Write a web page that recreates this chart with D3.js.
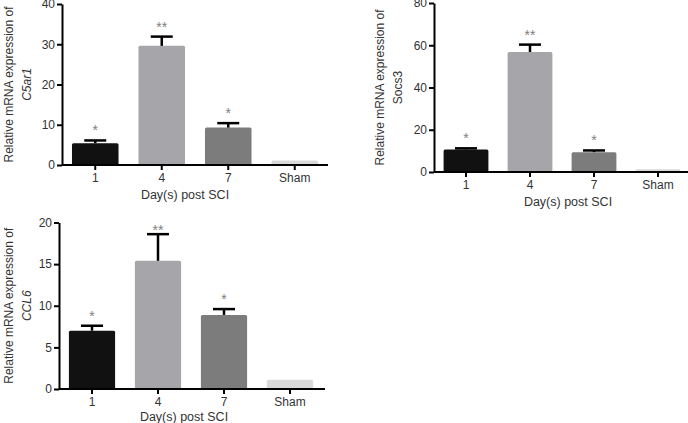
<!DOCTYPE html>
<html>
<head>
<meta charset="utf-8">
<script src="https://cdn.jsdelivr.net/npm/d3@7"></script>
<style>
  body { margin: 0; background: white; }
  svg { display: block; font-family: "Liberation Sans", Arial, sans-serif; }
  .axis path, .axis line { stroke: #000; stroke-width: 2; }
  .axis text { fill: #333; font-size: 12px; }
</style>
</head>
<body>
<svg id="chart" width="688" height="423"></svg>
<script>
// data
var days = ["1", "4", "7", "Sham"];
var stars = ["*", "**", "*", ""];

var c5ar1_mean = [5.4, 29.6, 9.3, 1.1];
var c5ar1_err  = [0.7, 2.3, 1.1, 0];

var socs3_mean = [10.7, 56.8, 9.4, 1.3];
var socs3_err  = [0.5, 3.5, 0.8, 0];

var ccl6_mean = [7.0, 15.4, 8.9, 1.1];
var ccl6_err  = [0.6, 3.2, 0.7, 0];

var c5ar1_ticks = [0, 10, 20, 30, 40];
var socs3_ticks = [0, 20, 40, 60, 80];
var ccl6_ticks  = [0, 5, 10, 15, 20];

var bar_colors = ["#111111", "#a6a6aa", "#7c7c7c", "#d9d9d9"];

var svg = d3.select("#chart");

// each panel: where its axes sit, in px
var panels = [
  {gene: "C5ar1", italic: true, mean: c5ar1_mean, err: c5ar1_err, ticks: c5ar1_ticks,
   x0: 62, x1: 328, y0: 165, y1: 4, ymax: 40, lblx: 9, xlabx: 185, xlaby: 199, xend: 328},
  {gene: "Socs3", italic: false, mean: socs3_mean, err: socs3_err, ticks: socs3_ticks,
   x0: 434, x1: 690, y0: 172, y1: 3, ymax: 80, lblx: 380, xlabx: 568, xlaby: 206, xend: 688},
  {gene: "CCL6", italic: true, mean: ccl6_mean, err: ccl6_err, ticks: ccl6_ticks,
   x0: 59, x1: 323, y0: 389, y1: 222.5, ymax: 20, lblx: 9, xlabx: 184, xlaby: 421, xend: 325}
];

panels.forEach(function(p) {
  var x = d3.scaleBand().domain(days).range([p.x0, p.x1])
      .paddingInner(0.3).paddingOuter(0.15);
  var y = d3.scaleLinear().domain([0, p.ymax]).range([p.y0, p.y1]);
  var g = svg.append("g");

  var rows = days.map(function(d, i) {
    return {day: d, mean: p.mean[i], err: p.err[i], star: stars[i], color: bar_colors[i]};
  });

  g.selectAll("rect.bar").data(rows).enter().append("rect")
    .attr("class", "bar")
    .attr("x", function(d) { return x(d.day); })
    .attr("width", x.bandwidth())
    .attr("y", function(d) { return y(d.mean); })
    .attr("height", function(d) { return p.y0 - y(d.mean); })
    .attr("rx", 1.5)
    .attr("fill", function(d) { return d.color; });

  // upper error bars only
  var eb = g.selectAll("g.err").data(rows.filter(function(d) { return d.err > 0; }))
    .enter().append("g").attr("class", "err")
    .attr("stroke", "#000").attr("stroke-width", 2.5);
  eb.append("line")
    .attr("x1", function(d) { return x(d.day) + x.bandwidth() / 2; })
    .attr("x2", function(d) { return x(d.day) + x.bandwidth() / 2; })
    .attr("y1", function(d) { return y(d.mean); })
    .attr("y2", function(d) { return y(d.mean + d.err); });
  eb.append("line")
    .attr("x1", function(d) { return x(d.day) + x.bandwidth() / 2 - 11; })
    .attr("x2", function(d) { return x(d.day) + x.bandwidth() / 2 + 11; })
    .attr("y1", function(d) { return y(d.mean + d.err); })
    .attr("y2", function(d) { return y(d.mean + d.err); });

  g.selectAll("text.star").data(rows.filter(function(d) { return d.star; }))
    .enter().append("text").attr("class", "star")
    .attr("x", function(d) { return x(d.day) + x.bandwidth() / 2; })
    .attr("y", function(d) { return Math.max(y(d.mean + d.err) - 14, p.y1 + 3) + 9; })
    .attr("text-anchor", "middle")
    .attr("fill", "#808080")
    .style("font-size", "14px")
    .text(function(d) { return d.star; });

  // axes
  g.append("g").attr("class", "axis")
    .attr("transform", "translate(" + p.x0 + ",0)")
    .call(d3.axisLeft(y).tickValues(p.ticks).tickSize(5).tickSizeOuter(0).tickPadding(2));
  var xa = g.append("g").attr("class", "axis")
    .attr("transform", "translate(0," + p.y0 + ")")
    .call(d3.axisBottom(x).tickSize(5).tickSizeOuter(0).tickPadding(3));
  xa.select("path.domain").attr("d", "M" + p.x0 + ",0H" + p.xend);

  g.append("text")
    .attr("x", p.xlabx).attr("y", p.xlaby)
    .attr("text-anchor", "middle")
    .attr("fill", "#333")
    .style("font-size", "12.5px")
    .text("Day(s) post SCI");

  var cy = (p.y0 + p.y1) / 2;
  var lbl = g.append("text")
    .attr("transform", "translate(" + p.lblx + "," + cy + ") rotate(-90)")
    .attr("text-anchor", "middle")
    .attr("fill", "#333")
    .style("font-size", "12px");
  lbl.append("tspan").attr("x", 0).attr("dy", "0.35em").text("Relative mRNA expression of");
  lbl.append("tspan").attr("x", 0).attr("dy", "1.45em")
    .style("font-style", p.italic ? "italic" : "normal")
    .text(p.gene);
});
</script>
</body>
</html>
